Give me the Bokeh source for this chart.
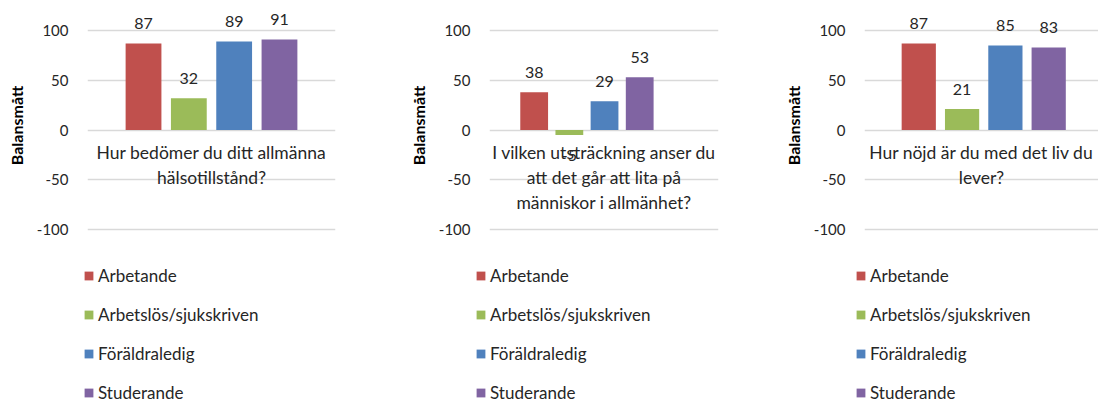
from bokeh.plotting import figure
from bokeh.layouts import row, column
from bokeh.models import (ColumnDataSource, FixedTicker, Range1d, Legend, LegendItem,
                          CustomJSTickFormatter)
from bokeh.core.properties import value
from bokeh.embed import file_html
from bokeh.resources import INLINE

# ---------------- data ----------------
groups = ["Arbetande", "Arbetslös/sjukskriven", "Föräldraledig", "Studerande"]
colors = ["#C0504D", "#9BBB59", "#4F81BD", "#8064A2"]
questions = [
    "Hur bedömer du ditt allmänna\nhälsotillstånd?",
    "I vilken utsträckning anser du\natt det går att lita på\nmänniskor i allmänhet?",
    "Hur nöjd är du med det liv du\nlever?",
]
values_q1 = [87, 32, 89, 91]
values_q2 = [38, -5, 29, 53]
values_q3 = [87, 21, 85, 83]
y_ticks = [-100, -50, 0, 50, 100]
y_title = "Balansmått"

FONT = "Lato"
TXT = "#262626"
H_TOP = 250
H_LEG = 153
W_ALL = 1098

# layout per panel: fig width, border left, border right, x range, legend x (page px)
panels = [
    dict(values=values_q1, q=questions[0], W=405, bl=87, br=70, xr=(-1.236, 4.236), lx=83),
    dict(values=values_q2, q=questions[1], W=375, bl=82, br=62, xr=(-1.27, 5.24), lx=475),
    dict(values=values_q3, q=questions[2], W=318, bl=83, br=0, xr=(-1.253, 4.15), lx=855),
]

# vertical scale: 100 -> 30px from top, -100 -> 229px from top
px_per_unit = 199.0 / 200.0
y_top = 100 + 30 / px_per_unit
y_bot = -100 - (H_TOP - 229) / px_per_unit

tops = []
for cfg in panels:
    vals = cfg["values"]
    p = figure(width=cfg["W"], height=H_TOP, output_backend="svg", toolbar_location=None,
               x_range=Range1d(*cfg["xr"]), y_range=Range1d(y_bot, y_top),
               x_axis_location=None, min_border_left=cfg["bl"], min_border_right=cfg["br"],
               min_border_top=0, min_border_bottom=0)
    p.outline_line_color = None
    p.background_fill_color = "white"
    p.border_fill_color = "white"
    p.xgrid.visible = False
    p.ygrid.ticker = FixedTicker(ticks=y_ticks)
    p.ygrid.grid_line_color = "#d9d9d9"
    p.ygrid.grid_line_width = 1.5
    ax = p.yaxis[0]
    ax.ticker = FixedTicker(ticks=y_ticks)
    ax.formatter = CustomJSTickFormatter(code="return tick.toFixed(0);")
    ax.axis_line_color = None
    ax.major_tick_line_color = None
    ax.minor_tick_line_color = None
    ax.major_tick_out = 0
    ax.major_tick_in = 0
    ax.major_label_standoff = 19
    ax.major_label_text_font = FONT
    ax.major_label_text_font_size = "15px"
    ax.major_label_text_color = TXT
    ax.axis_label = y_title
    ax.axis_label_standoff = 8
    ax.axis_label_text_font = FONT
    ax.axis_label_text_font_size = "16px"
    ax.axis_label_text_font_style = "bold"
    ax.axis_label_text_color = "#000000"

    xs = list(range(len(vals)))
    src = ColumnDataSource(dict(
        x=xs, top=vals,
        txt=[str(v) for v in vals],
        base=["alphabetic" if v >= 0 else "top" for v in vals],
        yoff=[-20 if v >= 0 else 15 for v in vals],
    ))
    for i in range(len(vals)):
        p.vbar(x=[xs[i]], top=[vals[i]], bottom=0, width=0.79,
               fill_color=colors[i], line_color=None)
    p.text(x="x", y="top", text="txt", source=src, text_align="center",
           text_baseline="base", y_offset="yoff", text_font=value(FONT),
           text_font_size="16px", text_color=TXT)

    cx = (cfg["xr"][0] + cfg["xr"][1]) / 2
    p.text(x=[cx], y=[0], text=[cfg["q"]], text_align="center", text_baseline="top",
           y_offset=12, text_font=value(FONT), text_font_size="17.5px", text_color=TXT,
           text_line_height=1.2)
    tops.append(p)

# one legend strip spanning the full width, so no legend is clipped by a frame
pl = figure(width=W_ALL, height=H_LEG, output_backend="svg", toolbar_location=None,
            x_range=Range1d(-1000, -999), y_range=Range1d(-1000, -999),
            x_axis_location=None, y_axis_location=None,
            min_border_left=0, min_border_right=0, min_border_top=0, min_border_bottom=0)
pl.outline_line_color = None
pl.grid.visible = False
pl.border_fill_color = "white"
proxies = []
for i, g in enumerate(groups):
    # legend proxies: same bar glyph, kept outside the visible ranges
    proxies.append(pl.vbar(x=[i], top=[values_q1[i]], bottom=0, width=0.79,
                           fill_color=colors[i], line_color=None))
for cfg in panels:
    items = [LegendItem(label=g, renderers=[r]) for g, r in zip(groups, proxies)]
    leg = Legend(items=items, location=(cfg["lx"], 0), orientation="vertical",
                 glyph_width=11, glyph_height=11, label_height=20, spacing=18,
                 label_standoff=4, padding=0, margin=0, border_line_color=None,
                 background_fill_alpha=0, label_text_font=FONT,
                 label_text_font_size="17px", label_text_color=TXT)
    pl.add_layout(leg, "center")

layout = column(row(*tops), pl)
open("out.html", "w").write(file_html(layout, INLINE))
